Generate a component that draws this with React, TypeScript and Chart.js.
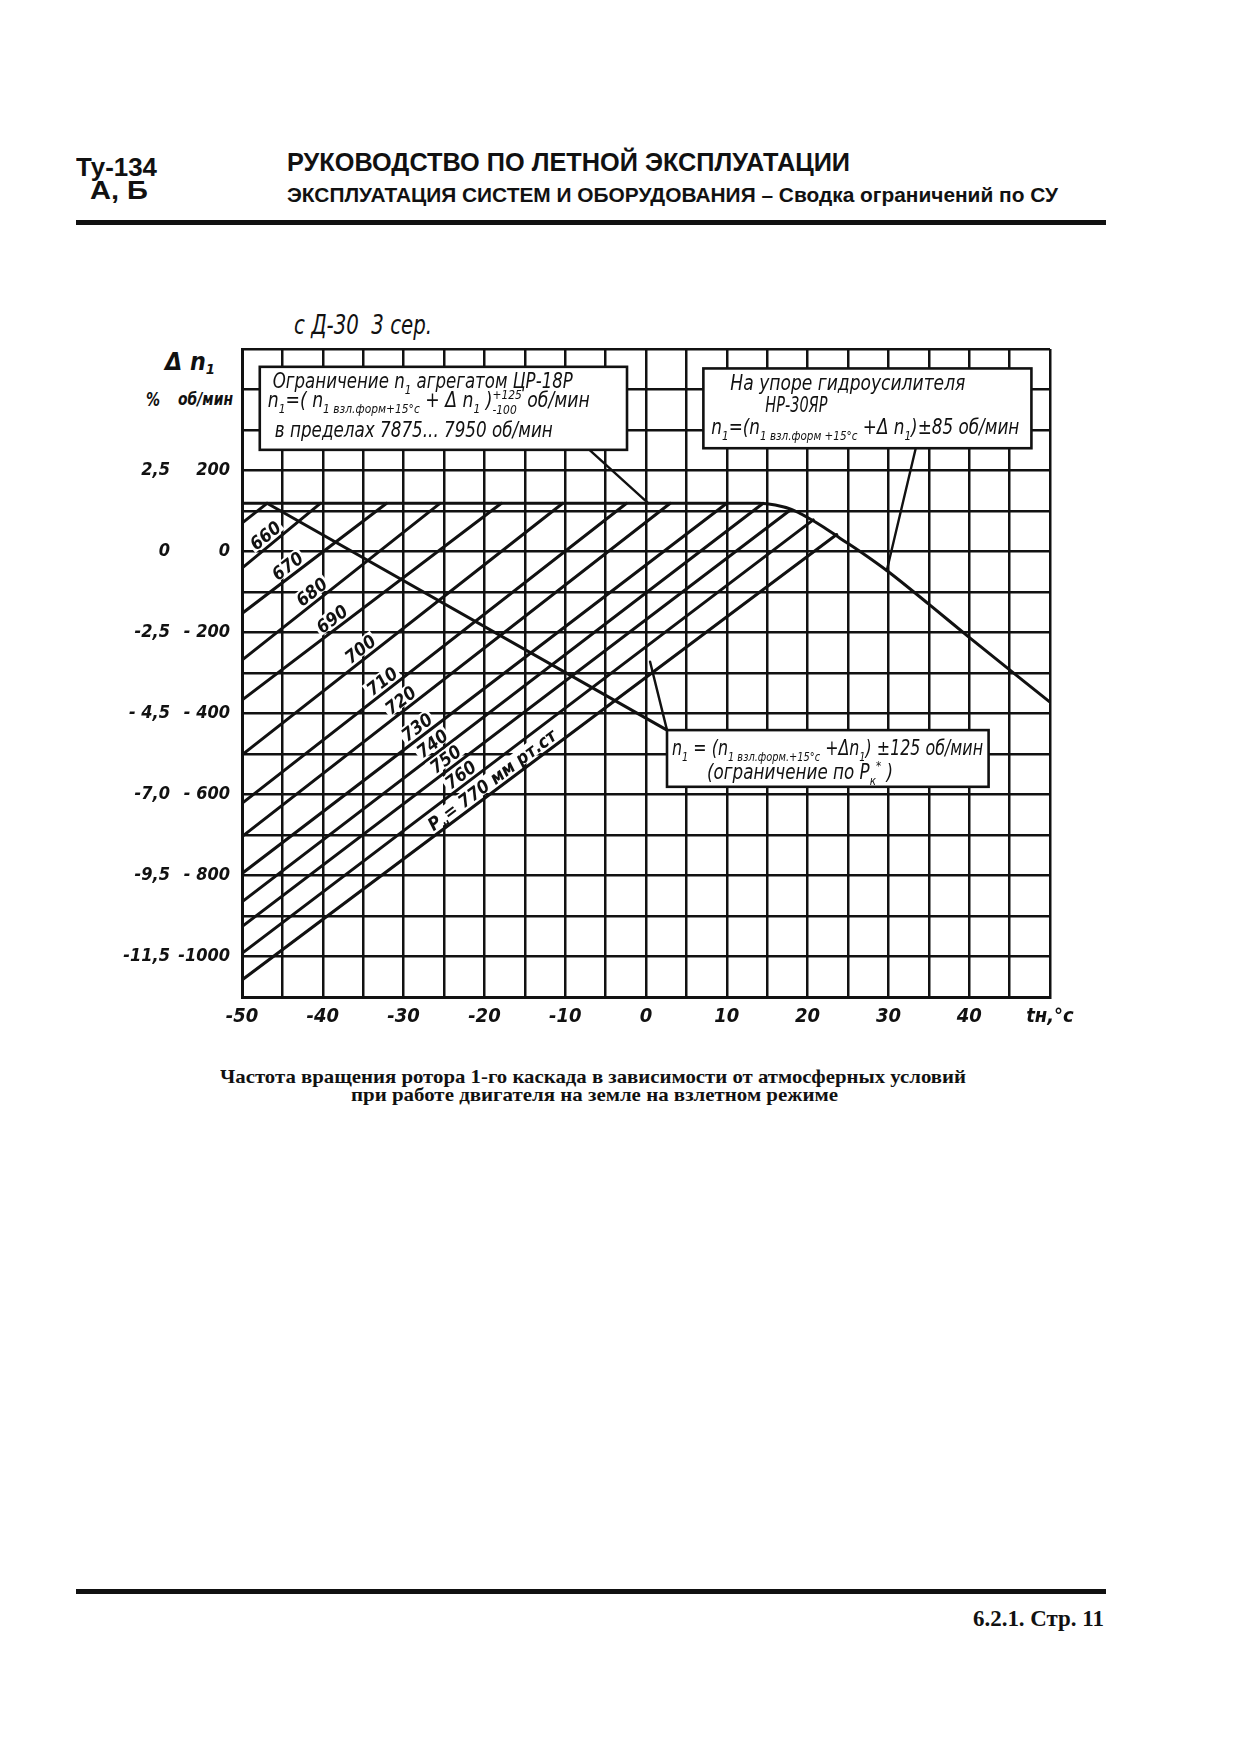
import React, { useEffect, useLayoutEffect, useRef } from 'react';
import { Chart, registerables } from 'chart.js';

Chart.register(...registerables);
if (typeof document !== 'undefined') {
  document.body.style.margin = '0';
}

// ---------------- data ----------------
const X_MIN = -50;
const X_MAX = 50;
const Y_MIN = -1100;
const Y_MAX = 500;
const X_TICK_LABEL_VALUES = [-50, -40, -30, -20, -10, 0, 10, 20, 30, 40];
const X_AXIS_TITLE = 'tн,°c';
const RPM_TICK_VALUES = [200, 0, -200, -400, -600, -800, -1000];
const RPM_TICK_LABELS = ['200', '0', '- 200', '- 400', '- 600', '- 800', '-1000'];
const PCT_TICK_LABELS = ['2,5', '0', '-2,5', '- 4,5', '-7,0', '-9,5', '-11,5'];

// upper limit line (ЦР-18Р flat part, then НР-30ЯР stop)
const ENVELOPE_T = [-50, 14, 16, 18, 20, 22, 24, 26.5, 30, 35, 40, 50];
const ENVELOPE_N = [119, 119, 115, 104, 84, 60, 33, 0, -50, -130, -212, -372];

// pressure lines Pн, mm Hg
const PRESSURE_LABELS = ['', '660', '670', '680', '690', '700', '710', '720', '730', '740', '750', '760', '770'];
const LINE_START_T = -50;
const LINE_START_N = [70, -41, -153, -268, -367, -502, -622, -704, -795, -865, -926, -992, -1058];
const LINE_END_T = [-46.9, -40.3, -32.1, -25.5, -17.9, -10.3, -2.4, 3.0, 10.0, 14.5, 17.9, 20.7, 23.6];
const LINE_END_N = [119, 119, 119, 119, 119, 119, 119, 119, 119, 119, 103, 78, 42];
const LABEL_AT_T = [NaN, -46.3, -43.6, -40.6, -38.1, -34.6, -31.9, -29.6, -27.6, -25.7, -24.05, -22.2, -18.3];

// Pк* limit line
const PK_T = [-46.9, 2.6];
const PK_N = [119, -441];

// leader lines
const LEADER_UL_T = [-7, 0.3];
const LEADER_UL_N = [251, 119];
const LEADER_UR_T = [33.4, 29.8];
const LEADER_UR_N = [256, -47];
const LEADER_LOW_T = [2.6, 0.5];
const LEADER_LOW_N = [-441, -272];

// note boxes (data units)
const BOX_UL = { t0: -47.8, t1: -2.35, n0: 456, n1: 251 };
const BOX_UR = { t0: 7.1, t1: 47.7, n0: 452, n1: 255 };
const BOX_LOW = { t0: 2.6, t1: 42.4, n0: -441, n1: -581 };

// ---------------- styles ----------------
const HAND = "'Liberation Sans Narrow', 'DejaVu Sans Condensed', 'Liberation Sans', sans-serif";
const INK = '#111';

type Seg = [string, 'n' | 'sub' | 'sup' | 'subb'];

const UL_LINES: { segs: Seg[]; dx: number; dy: number; w: number }[] = [
  { segs: [['Ограничение n', 'n'], ['1', 'sub'], [' агрегатом ЦР-18Р', 'n']], dx: 13, dy: 21.5, w: 300 },
  {
    segs: [['n', 'n'], ['1', 'sub'], ['=( n', 'n'], ['1 взл.форм+15°c', 'sub'], [' + Δ n', 'n'], ['1', 'sub'], [' )', 'n'], ['+125', 'sup'], ['-100', 'subb'], [' об/мин', 'n']],
    dx: 8, dy: 40.5, w: 322,
  },
  { segs: [['в пределах 7875... 7950 об/мин', 'n']], dx: 15, dy: 70, w: 278 },
];
const UR_LINES: { segs: Seg[]; dx: number; dy: number; w: number }[] = [
  { segs: [['На упоре гидроусилителя', 'n']], dx: 27, dy: 22, w: 235 },
  { segs: [['НР-30ЯР', 'n']], dx: 62, dy: 43.5, w: 62 },
  {
    segs: [['n', 'n'], ['1', 'sub'], ['=(n', 'n'], ['1 взл.форм +15°c', 'sub'], [' +Δ n', 'n'], ['1', 'sub'], [')±85 об/мин', 'n']],
    dx: 8, dy: 66, w: 308,
  },
];
const LOW_LINES: { segs: Seg[]; dx: number; dy: number; w: number }[] = [
  {
    segs: [['n', 'n'], ['1', 'sub'], [' = (n', 'n'], ['1 взл.форм.+15°c', 'sub'], [' +Δn', 'n'], ['1', 'sub'], [') ±125 об/мин', 'n']],
    dx: 5, dy: 25, w: 311,
  },
  { segs: [['(ограничение по P', 'n'], ['к', 'sub'], ['*', 'sup'], [' )', 'n']], dx: 40, dy: 49, w: 186 },
];

function segFont(kind: string, size: number, weight: string) {
  const s = kind === 'n' ? size : size * 0.62;
  return `italic ${weight} ${s}px ${HAND}`;
}
function segDy(kind: string, size: number) {
  if (kind === 'sub') return size * 0.28;
  if (kind === 'sup') return -size * 0.42;
  if (kind === 'subb') return size * 0.3;
  return 0;
}
function layoutRich(ctx: CanvasRenderingContext2D, segs: Seg[], size: number, weight: string) {
  let cx = 0;
  let lastStart = 0;
  const items: { text: string; x: number; dy: number; font: string }[] = [];
  for (const [text, kind] of segs) {
    const font = segFont(kind, size, weight);
    ctx.font = font;
    const w = ctx.measureText(text).width;
    if (kind === 'subb') {
      items.push({ text, x: lastStart, dy: segDy(kind, size), font });
      cx = Math.max(cx, lastStart + w);
    } else {
      items.push({ text, x: cx, dy: segDy(kind, size), font });
      lastStart = cx;
      cx += w;
    }
  }
  return { items, width: cx };
}
function drawRich(ctx: CanvasRenderingContext2D, x: number, y: number, segs: Seg[], size: number, targetW: number, weight = 'normal') {
  const { items, width } = layoutRich(ctx, segs, size, weight);
  ctx.save();
  ctx.translate(x, y);
  ctx.scale(targetW / width, 1);
  ctx.fillStyle = INK;
  ctx.textBaseline = 'alphabetic';
  ctx.textAlign = 'left';
  for (const it of items) {
    ctx.font = it.font;
    ctx.fillText(it.text, it.x, it.dy);
  }
  ctx.restore();
}

const overlayPlugin = {
  id: 'overlay',
  afterDatasetsDraw(chart: any) {
    const ctx: CanvasRenderingContext2D = chart.ctx;
    const xs = chart.scales.x;
    const ys = chart.scales.y;
    const px = (t: number) => xs.getPixelForValue(t);
    const py = (n: number) => ys.getPixelForValue(n);

    // pressure line labels
    PRESSURE_LABELS.forEach((lab, i) => {
      if (!lab) return;
      const x1 = px(LINE_START_T);
      const y1 = py(LINE_START_N[i]);
      const x2 = px(LINE_END_T[i]);
      const y2 = py(LINE_END_N[i]);
      const f = (LABEL_AT_T[i] - LINE_START_T) / (LINE_END_T[i] - LINE_START_T);
      const cx = x1 + (x2 - x1) * f;
      const cy = y1 + (y2 - y1) * f;
      const ang = Math.atan2(y2 - y1, x2 - x1);
      const segs: Seg[] = i === PRESSURE_LABELS.length - 1
        ? [['P', 'n'], ['н', 'sub'], ['= ' + lab + ' мм рт.ст', 'n']]
        : [[lab, 'n']];
      const size = 18;
      const { width } = layoutRich(ctx, segs, size, 'bold');
      ctx.save();
      ctx.translate(cx, cy);
      ctx.rotate(ang);
      ctx.fillStyle = '#fff';
      ctx.fillRect(-width / 2 - 2, -19, width + 4, 16);
      ctx.restore();
      ctx.save();
      ctx.translate(cx, cy);
      ctx.rotate(ang);
      drawRich(ctx, -width / 2, -4, segs, size, width, 'bold');
      ctx.restore();
    });

    // boxes
    const drawBox = (b: { t0: number; t1: number; n0: number; n1: number }, lines: { segs: Seg[]; dx: number; dy: number; w: number }[]) => {
      const l = px(b.t0);
      const r = px(b.t1);
      const t = py(b.n0);
      const bt = py(b.n1);
      ctx.save();
      ctx.fillStyle = '#fff';
      ctx.fillRect(l, t, r - l, bt - t);
      ctx.strokeStyle = INK;
      ctx.lineWidth = 2.6;
      ctx.strokeRect(l, t, r - l, bt - t);
      ctx.restore();
      for (const ln of lines) drawRich(ctx, l + ln.dx, t + ln.dy, ln.segs, 21, ln.w);
    };
    drawBox(BOX_UL, UL_LINES);
    drawBox(BOX_UR, UR_LINES);
    drawBox(BOX_LOW, LOW_LINES);
  },
};

function pts(ts: number[], ns: number[]) {
  return ts.map((t, i) => ({ x: t, y: ns[i] }));
}

function FitText(props: { left: number; top: number; width: number; font: string; children: React.ReactNode }) {
  const ref = useRef<HTMLDivElement>(null);
  useLayoutEffect(() => {
    const el = ref.current;
    if (!el) return;
    el.style.transform = 'none';
    const w = el.getBoundingClientRect().width;
    if (w > 0) el.style.transform = `scaleX(${props.width / w})`;
  });
  return (
    <div
      ref={ref}
      style={{
        position: 'absolute', left: props.left, top: props.top, font: props.font, lineHeight: 1,
        whiteSpace: 'pre', transformOrigin: '0 0', color: INK,
      }}
    >
      {props.children}
    </div>
  );
}

const SUB: React.CSSProperties = { fontSize: '0.6em', verticalAlign: '-0.25em' };

export default function App() {
  const canvasRef = useRef<HTMLCanvasElement>(null);

  useEffect(() => {
    const lineStyle = { showLine: true, borderColor: INK, borderWidth: 3, pointRadius: 0, borderCapStyle: 'round' as const, fill: false };
    const datasets: any[] = [
      { ...lineStyle, data: pts(ENVELOPE_T, ENVELOPE_N), cubicInterpolationMode: 'monotone' },
      ...LINE_START_N.map((n0, i) => ({ ...lineStyle, data: pts([LINE_START_T, LINE_END_T[i]], [n0, LINE_END_N[i]]) })),
      { ...lineStyle, data: pts(PK_T, PK_N) },
      { ...lineStyle, borderWidth: 2.4, data: pts(LEADER_UL_T, LEADER_UL_N) },
      { ...lineStyle, borderWidth: 2.4, data: pts(LEADER_UR_T, LEADER_UR_N) },
      { ...lineStyle, borderWidth: 2.4, data: pts(LEADER_LOW_T, LEADER_LOW_N) },
    ];
    const tickFont = { family: HAND, size: 20, style: 'italic' as const, weight: 'bold' as const };
    const yTickFont = { family: HAND, size: 18, style: 'italic' as const, weight: 'bold' as const };
    const chart = new Chart(canvasRef.current as HTMLCanvasElement, {
      type: 'scatter',
      data: { datasets },
      options: {
        animation: false,
        responsive: false,
        devicePixelRatio: 1,
        layout: { padding: { left: 0, right: 50, top: 49, bottom: 0 } },
        plugins: { legend: { display: false }, tooltip: { enabled: false } },
        scales: {
          x: {
            type: 'linear', min: X_MIN, max: X_MAX,
            afterFit: (s: any) => { s.height = 63; },
            grid: { color: INK, lineWidth: 2.5, drawTicks: false },
            border: { color: INK, width: 3 },
            ticks: {
              stepSize: 5, autoSkip: false, maxRotation: 0, padding: 8, color: INK, font: tickFont,
              callback: (v: any) => (X_TICK_LABEL_VALUES.includes(v) ? String(v) : v === X_MAX ? X_AXIS_TITLE : ''),
            },
          },
          y: {
            type: 'linear', position: 'left', min: Y_MIN, max: Y_MAX, weight: 0,
            afterFit: (s: any) => { s.width = 72; },
            grid: { color: INK, lineWidth: 2.5, drawTicks: false },
            border: { color: INK, width: 3 },
            ticks: {
              stepSize: 100, autoSkip: false, padding: 12, color: INK, font: yTickFont,
              callback: (v: any) => { const i = RPM_TICK_VALUES.indexOf(v); return i >= 0 ? RPM_TICK_LABELS[i] : ''; },
            },
          },
          y2: {
            type: 'linear', position: 'left', min: Y_MIN, max: Y_MAX, weight: 1,
            afterFit: (s: any) => { s.width = 70; },
            grid: { display: false, drawTicks: false },
            border: { display: false },
            ticks: {
              stepSize: 100, autoSkip: false, padding: 0, color: INK, font: yTickFont,
              callback: (v: any) => { const i = RPM_TICK_VALUES.indexOf(v); return i >= 0 ? PCT_TICK_LABELS[i] : ''; },
            },
          },
        },
      },
      plugins: [overlayPlugin],
    } as any);
    return () => chart.destroy();
  }, []);

  const HB = "bold 26px 'Liberation Sans', Arial, sans-serif";
  return (
    <div style={{ position: 'relative', width: 1253, height: 1757, background: '#fff', overflow: 'hidden' }}>
      <FitText left={76} top={154} width={81} font={HB}>Ту-134</FitText>
      <FitText left={90} top={178} width={58} font={"bold 25px 'Liberation Sans', Arial, sans-serif"}>А, Б</FitText>
      <FitText left={287} top={149} width={563} font={HB}>РУКОВОДСТВО ПО ЛЕТНОЙ ЭКСПЛУАТАЦИИ</FitText>
      <FitText left={287} top={184.5} width={771} font={"bold 20px 'Liberation Sans', Arial, sans-serif"}>
        ЭКСПЛУАТАЦИЯ СИСТЕМ И ОБОРУДОВАНИЯ – Сводка ограничений по СУ
      </FitText>
      <div style={{ position: 'absolute', left: 76, top: 220, width: 1030, height: 5, background: INK }} />

      <FitText left={294} top={312} width={138} font={`italic 26px ${HAND}`}>с Д-30  3 сер.</FitText>
      <FitText left={165} top={350} width={50} font={`italic bold 24px ${HAND}`}>
        Δ n<span style={SUB}>1</span>
      </FitText>
      <FitText left={146} top={389} width={14} font={`italic bold 20px ${HAND}`}>%</FitText>
      <FitText left={178} top={390} width={55} font={`italic bold 18px ${HAND}`}>об/мин</FitText>

      <canvas
        ref={canvasRef}
        width={1000}
        height={760}
        style={{ position: 'absolute', left: 100, top: 300, width: 1000, height: 760 }}
      />

      <FitText left={220} top={1066.7} width={746} font={"bold 19px 'Liberation Serif', 'Times New Roman', serif"}>
        Частота вращения ротора 1-го каскада в зависимости от атмосферных условий
      </FitText>
      <FitText left={351} top={1084.7} width={487} font={"bold 19px 'Liberation Serif', 'Times New Roman', serif"}>
        при работе двигателя на земле на взлетном режиме
      </FitText>

      <div style={{ position: 'absolute', left: 76, top: 1589, width: 1030, height: 5, background: INK }} />
      <FitText left={973} top={1606} width={131} font={"bold 24px 'Liberation Serif', 'Times New Roman', serif"}>
        6.2.1. Стр. 11
      </FitText>
    </div>
  );
}
